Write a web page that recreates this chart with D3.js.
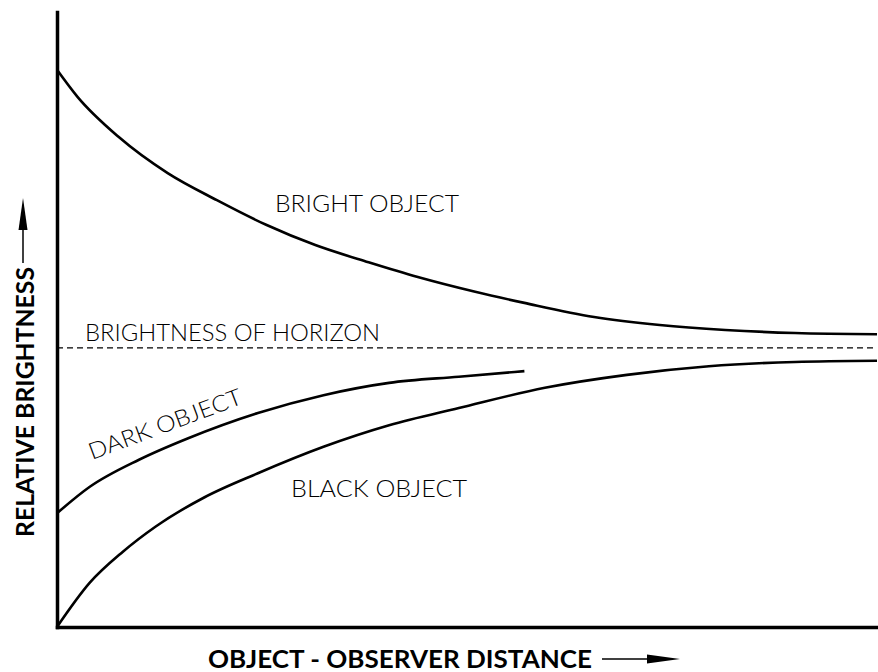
<!DOCTYPE html>
<html>
<head>
<meta charset="utf-8">
<script src="https://cdn.jsdelivr.net/npm/d3@7"></script>
<style>
  html, body { margin: 0; padding: 0; background: #fff; }
  #chart { width: 878px; height: 672px; }
</style>
</head>
<body>
<div id="chart"></div>
<script>
// 数据：x 为距离（0-100），y 为相对亮度（0-100）
const brightX = [0, 2.5, 7.5, 13.5, 19.5, 25.5, 31.5, 38, 44, 51, 57, 65.5, 73.5, 81.5, 90, 100];
const brightY = [90.6, 86.2, 79.7, 73.8, 69.4, 65.4, 62.1, 59.3, 56.9, 54.5, 52.7, 50.4, 49.1, 48.3, 47.8, 47.6];
const darkX = [0, 4, 10, 16, 24.5, 32.5, 40.5, 49, 57];
const darkY = [18.5, 22.8, 27.2, 30.7, 34.8, 37.7, 39.7, 40.7, 41.6];
const blackX = [0, 4, 8, 12, 18, 24.5, 32.5, 40.5, 49, 59.5, 69.5, 79.5, 90, 100];
const blackY = [0, 7.2, 12.2, 16.3, 21.1, 25.0, 29.3, 32.8, 35.6, 38.9, 41.0, 42.4, 43.1, 43.3];
const horizonY = 45.4;
const xLabel = 'OBJECT - OBSERVER DISTANCE';
const yLabel = 'RELATIVE BRIGHTNESS';
const curveLabels = ['BRIGHT OBJECT', 'BRIGHTNESS OF HORIZON', 'DARK OBJECT', 'BLACK OBJECT'];

class BrightnessChart {
  constructor(id) {
    this.id = id;
    this.width = 878;
    this.height = 672;
    // 边框
    this.margin = { top: 12, right: 1, bottom: 45, left: 57 };
    this.init();
  }
  init() {
    this.initSvg();
    this.initScale();
    this.initAxis();
    this.initLines();
    this.initText();
  }
  initSvg() {
    this.svg = d3.select(`#${this.id}`)
      .append('svg')
      .attr('width', this.width)
      .attr('height', this.height)
      .attr('viewBox', `0 0 ${this.width} ${this.height}`);
    this.innerWidth = this.width - this.margin.left - this.margin.right;
    this.innerHeight = this.height - this.margin.top - this.margin.bottom;
    this.mg = this.svg.append('g')
      .attr('transform', `translate(${this.margin.left},${this.margin.top})`);
  }
  initScale() {
    this.xScale = d3.scaleLinear().domain([0, 100]).range([0, this.innerWidth]);
    this.yScale = d3.scaleLinear().domain([0, 100]).range([this.innerHeight, 0]);
  }
  initAxis() {
    const xg = this.mg.append('g')
      .attr('transform', `translate(0,${this.innerHeight})`)
      .call(d3.axisBottom(this.xScale).ticks(0).tickSizeOuter(0));
    const yg = this.mg.append('g')
      .call(d3.axisLeft(this.yScale).ticks(0).tickSizeOuter(0));
    [xg, yg].forEach(g => g.select('.domain')
      .attr('stroke', '#000')
      .attr('stroke-width', 3.5)
      .attr('stroke-linecap', 'square'));
  }
  initLines() {
    const line = d3.line()
      .x(d => this.xScale(d[0]))
      .y(d => this.yScale(d[1]))
      .curve(d3.curveMonotoneX);
    const series = [
      d3.zip(brightX, brightY),
      d3.zip(darkX, darkY),
      d3.zip(blackX, blackY)
    ];
    this.mg.append('g')
      .selectAll('path')
      .data(series)
      .join('path')
      .attr('d', line)
      .attr('fill', 'none')
      .attr('stroke', '#000')
      .attr('stroke-width', 2.6);
    // 地平线亮度（虚线）
    this.mg.append('line')
      .attr('x1', this.xScale(0))
      .attr('x2', this.xScale(100))
      .attr('y1', this.yScale(horizonY))
      .attr('y2', this.yScale(horizonY))
      .attr('stroke', '#000')
      .attr('stroke-width', 1.3)
      .attr('stroke-dasharray', '6,4');
  }
  initText() {
    const font = 'Lato, "Open Sans", sans-serif';
    const t = (x, y, str, len, size, weight, rot) => this.svg.append('text')
      .attr('transform', `translate(${x},${y}) rotate(${rot || 0})`)
      .attr('font-family', font)
      .attr('font-size', size)
      .attr('font-weight', weight)
      .attr('textLength', len)
      .attr('lengthAdjust', 'spacingAndGlyphs')
      .attr('fill', '#000')
      .text(str);
    t(275, 212, curveLabels[0], 184, 23, 300);
    t(85, 341, curveLabels[1], 295, 23, 300);
    t(92, 460, curveLabels[2], 162, 23, 300, -20.5);
    t(291, 497, curveLabels[3], 176, 23, 300);
    // 坐标轴标题
    t(208, 668, xLabel, 384, 24, 700);
    t(34, 537, yLabel, 270, 24, 700, -90);
    // 箭头
    this.svg.append('line').attr('x1', 602).attr('x2', 650).attr('y1', 659).attr('y2', 659)
      .attr('stroke', '#000').attr('stroke-width', 1.5);
    this.svg.append('path').attr('d', 'M647,654.5 L680,659 L647,663.5 Z').attr('fill', '#000');
    this.svg.append('line').attr('x1', 23).attr('x2', 23).attr('y1', 263).attr('y2', 225)
      .attr('stroke', '#000').attr('stroke-width', 1.5);
    this.svg.append('path').attr('d', 'M18.5,230 L23,198 L27.5,230 Z').attr('fill', '#000');
  }
}

new BrightnessChart('chart');
</script>
</body>
</html>
